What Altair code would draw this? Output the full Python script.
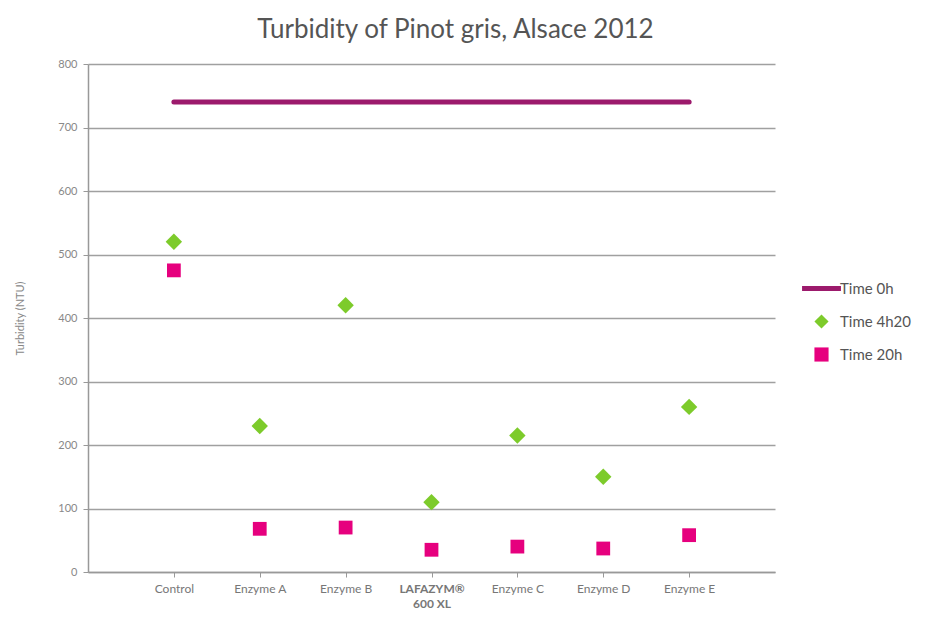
import altair as alt
import pandas as pd

categories = ["Control", "Enzyme A", "Enzyme B", "LAFAZYM® 600 XL", "Enzyme C", "Enzyme D", "Enzyme E"]
time_0h = [740, 740, 740, 740, 740, 740, 740]
time_4h20 = [520, 230, 420, 110, 215, 150, 260]
time_20h = [475, 68, 70, 35, 40, 37, 58]
series_names = ["Time 0h", "Time 4h20", "Time 20h"]
series_colors = ["#9c1a6c", "#7dcb2b", "#e6007e"]

line_df = pd.DataFrame({"cat": categories, "val": time_0h, "series": "Time 0h"})
pts_df = pd.concat([
    pd.DataFrame({"cat": categories, "val": time_4h20, "series": "Time 4h20", "sz": 270}),
    pd.DataFrame({"cat": categories, "val": time_20h, "series": "Time 20h", "sz": 190}),
])

FONT = "Lato"

x_enc = alt.X("cat:N", sort=categories, title=None,
              scale=alt.Scale(type="point", padding=1, domain=categories),
              axis=alt.Axis(
                  labelAngle=0, labelFont=FONT, labelFontSize=12, labelColor="#777777",
                  labelExpr="datum.value == 'LAFAZYM® 600 XL' ? ['LAFAZYM®', '600 XL'] : datum.value",
                  labelFontWeight={"condition": {"test": "datum.value == 'LAFAZYM® 600 XL'", "value": "bold"}, "value": "normal"},
                  labelPadding=6, tickSize=5, tickColor="#999999", domainColor="#999999",
                  domainWidth=1.5, grid=False, labelLineHeight=15))
y_enc = alt.Y("val:Q", title="Turbidity (NTU)",
              scale=alt.Scale(domain=[0, 800], nice=False),
              axis=alt.Axis(values=list(range(0, 801, 100)), labelFont=FONT, labelFontSize=11,
                            labelColor="#888888", titleFont=FONT, titleFontSize=11,
                            titleFontWeight="normal", titleColor="#888888", titlePadding=32,
                            tickSize=5, tickColor="#999999", domainColor="#999999", domainWidth=1.5,
                            gridColor="#a0a0a0", gridWidth=1.5, labelPadding=6))

color_scale = alt.Scale(domain=series_names, range=series_colors)
shape_scale = alt.Scale(domain=series_names,
                        range=["M-2.75,-0.35H2.75V0.35H-2.75Z", "diamond", "square"])
legend = alt.Legend(title=None, orient="none", legendX=726, legendY=217,
                    labelFont=FONT, labelFontSize=15, labelColor="#555555",
                    symbolSize=200, symbolOpacity=1, rowPadding=17,
                    labelOffset=11, padding=0, symbolStrokeWidth=0, symbolType="square")

line = alt.Chart(line_df).mark_line(strokeWidth=5, strokeCap="round").encode(
    x=x_enc, y=y_enc,
    color=alt.Color("series:N", scale=color_scale, legend=legend),
)

pts = alt.Chart(pts_df).mark_point(filled=True, opacity=1).encode(
    x=alt.X("cat:N", sort=categories),
    y="val:Q",
    color=alt.Color("series:N", scale=color_scale, legend=legend),
    shape=alt.Shape("series:N", scale=shape_scale, legend=legend),
    size=alt.Size("sz:Q", scale=None, legend=None),
)

chart = alt.layer(line, pts).properties(
    width=687, height=508,
    title=alt.TitleParams("Turbidity of Pinot gris, Alsace 2012", font=FONT, fontSize=26,
                          fontWeight="normal", color="#555555", anchor="middle", dx=24, offset=15),
    autosize=alt.AutoSizeParams(type="none"),
    padding={"left": 80, "top": 56, "right": 142, "bottom": 38},
).configure_view(stroke=None).configure_axis(gridDash=[])

chart.save("out.html", embed_options={"renderer": "svg", "actions": False})
